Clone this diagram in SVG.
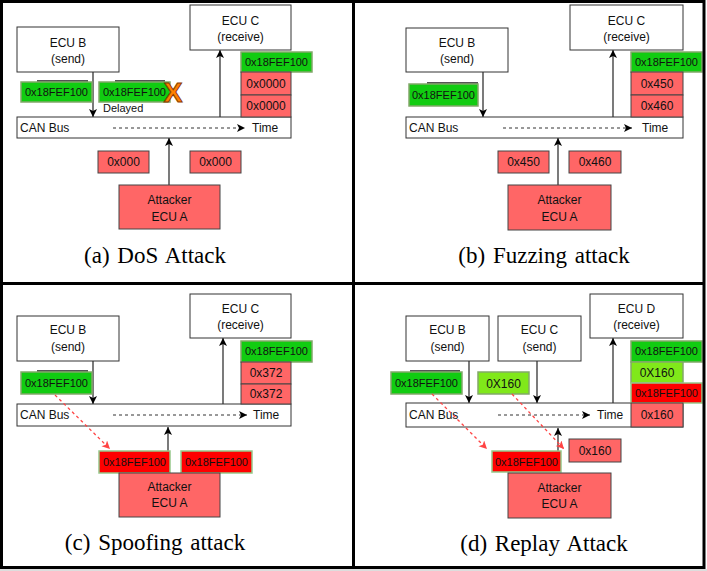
<svg xmlns="http://www.w3.org/2000/svg" width="707" height="571" viewBox="0 0 707 571">
<style>
.box{fill:#fff;stroke:#333;stroke-width:1}
.t{font-family:"Liberation Sans",Arial,sans-serif;font-size:12px;fill:#111;text-anchor:middle}
.s{text-anchor:start}
.m{font-size:11px}
.grn{fill:#11cc11;stroke:#82a86a;stroke-width:1.5}
.pnk{fill:#ff6666;stroke:#444;stroke-width:1}
.red{fill:#ff0000;stroke:#96c88a;stroke-width:1.5}
.lime{fill:#80e81a;stroke:#82a86a;stroke-width:1.5}
.sh{fill:#555}
.cap{font-family:"Liberation Serif","Times New Roman",serif;font-size:23px;fill:#000;text-anchor:middle;word-spacing:2px}
.c{stroke:#222;stroke-width:1.2;fill:none}
.d{stroke:#333;stroke-width:1;stroke-dasharray:3 3;fill:none}
.rd{stroke:#f44;stroke-width:1.3;stroke-dasharray:3 3;fill:none}
</style>
<defs>
<marker id="ah" markerWidth="10" markerHeight="10" refX="8" refY="4" orient="auto" markerUnits="userSpaceOnUse"><path d="M0,0 L8,4 L0,8 L2,4 z" fill="#000"/></marker>
<marker id="ar" markerWidth="10" markerHeight="10" refX="8" refY="4" orient="auto" markerUnits="userSpaceOnUse"><path d="M0,0 L8,4 L0,8 L2,4 z" fill="#f44"/></marker>
</defs>
<rect x="0" y="0" width="707" height="571" fill="#fff"/>
<rect x="0" y="569" width="707" height="2" fill="#ddd"/>

<!-- Panel (a) -->
<g id="a-connectors">
<line class="c" x1="93" y1="72" x2="93" y2="117" marker-end="url(#ah)"/>
<line class="c" x1="220" y1="117" x2="220" y2="50" marker-end="url(#ah)"/>
<line class="c" x1="169" y1="185" x2="169" y2="138" marker-end="url(#ah)"/>
</g>
<g id="a-ecub"><rect class="box" x="17" y="27" width="102" height="45"/><text class="t" x="68" y="47">ECU B</text><text class="t" x="68" y="63">(send)</text></g>
<g id="a-ecuc"><rect class="box" x="190" y="5" width="101" height="45"/><text class="t" x="240.5" y="25">ECU C</text><text class="t" x="240.5" y="41">(receive)</text></g>
<g id="a-bus"><rect class="box" x="17" y="117" width="274" height="21"/><text class="t s" x="20" y="132">CAN Bus</text><line class="d" x1="113" y1="128" x2="245" y2="128" marker-end="url(#ah)"/><text class="t s" x="252" y="132">Time</text></g>
<g id="a-msg1"><rect class="sh" x="37" y="80" width="51" height="20"/><rect class="grn" x="21" y="82" width="71" height="20"/><text class="t m" x="56.5" y="96">0x18FEF100</text></g>
<g id="a-msg2"><rect class="sh" x="115" y="80" width="50" height="20"/><rect class="grn" x="99" y="82" width="71" height="20"/><text class="t m" x="134.5" y="96">0x18FEF100</text>
<text x="173" y="102" font-family="'Liberation Sans',Arial,sans-serif" font-size="28" font-weight="bold" fill="#ff8000" stroke="#8a3a00" stroke-width="1" text-anchor="middle">X</text>
<text class="t s m" x="103" y="112">Delayed</text></g>
<g id="a-stack"><rect class="grn" x="241" y="52" width="71" height="20"/><text class="t m" x="276.5" y="66">0x18FEF100</text>
<rect class="pnk" x="241" y="72" width="50" height="23"/><text class="t" x="266" y="88">0x0000</text>
<rect class="pnk" x="241" y="95" width="50" height="22"/><text class="t" x="266" y="110">0x0000</text></g>
<g id="a-m000a"><rect class="pnk" x="98" y="151" width="51" height="22"/><text class="t" x="123.5" y="166">0x000</text></g>
<g id="a-m000b"><rect class="pnk" x="190" y="151" width="51" height="22"/><text class="t" x="215.5" y="166">0x000</text></g>
<g id="a-att"><rect class="pnk" x="119" y="185" width="101" height="44"/><text class="t" x="169.5" y="204">Attacker</text><text class="t" x="169.5" y="221">ECU A</text></g>
<text class="cap" x="155" y="263">(a) DoS Attack</text>

<!-- Panel (b) -->
<g id="b-connectors">
<line class="c" x1="483" y1="72" x2="483" y2="117" marker-end="url(#ah)"/>
<line class="c" x1="613" y1="117" x2="613" y2="50" marker-end="url(#ah)"/>
<line class="c" x1="558" y1="185" x2="558" y2="138" marker-end="url(#ah)"/>
</g>
<g id="b-ecub"><rect class="box" x="406" y="28" width="102" height="44"/><text class="t" x="457" y="47">ECU B</text><text class="t" x="457" y="63">(send)</text></g>
<g id="b-ecuc"><rect class="box" x="570" y="5" width="113" height="45"/><text class="t" x="626.5" y="25">ECU C</text><text class="t" x="626.5" y="41">(receive)</text></g>
<g id="b-bus"><rect class="box" x="406" y="117" width="277" height="21"/><text class="t s" x="409" y="132">CAN Bus</text><line class="d" x1="503" y1="128" x2="632" y2="128" marker-end="url(#ah)"/><text class="t s" x="642" y="132">Time</text></g>
<g id="b-msg"><rect class="sh" x="427" y="82" width="51" height="20"/><rect class="grn" x="409" y="84" width="69" height="22"/><text class="t m" x="443.5" y="99">0x18FEF100</text></g>
<g id="b-stack"><rect class="grn" x="631" y="52" width="71" height="20"/><text class="t m" x="666.5" y="66">0x18FEF100</text>
<rect class="pnk" x="631" y="72" width="52" height="23"/><text class="t" x="657" y="88">0x450</text>
<rect class="pnk" x="631" y="95" width="52" height="22"/><text class="t" x="657" y="110">0x460</text></g>
<g id="b-m450"><rect class="pnk" x="498" y="151" width="51" height="22"/><text class="t" x="523.5" y="166">0x450</text></g>
<g id="b-m460"><rect class="pnk" x="569" y="151" width="52" height="22"/><text class="t" x="595" y="166">0x460</text></g>
<g id="b-att"><rect class="pnk" x="508" y="185" width="103" height="45"/><text class="t" x="559.5" y="204">Attacker</text><text class="t" x="559.5" y="221">ECU A</text></g>
<text class="cap" x="544" y="263">(b) Fuzzing attack</text>

<!-- Panel (c) -->
<g id="c-connectors">
<line class="c" x1="93" y1="361" x2="93" y2="404" marker-end="url(#ah)"/>
<line class="c" x1="223" y1="404" x2="223" y2="338" marker-end="url(#ah)"/>
<line class="c" x1="168" y1="470" x2="168" y2="427" marker-end="url(#ah)"/>
</g>
<g id="c-ecub"><rect class="box" x="17" y="316" width="102" height="45"/><text class="t" x="68" y="334">ECU B</text><text class="t" x="68" y="351">(send)</text></g>
<g id="c-ecuc"><rect class="box" x="190" y="294" width="101" height="44"/><text class="t" x="240.5" y="313">ECU C</text><text class="t" x="240.5" y="329">(receive)</text></g>
<g id="c-bus"><rect class="box" x="17" y="404" width="274" height="22"/><text class="t s" x="20" y="419">CAN Bus</text><line class="d" x1="113" y1="415" x2="247" y2="415" marker-end="url(#ah)"/><text class="t s" x="253" y="419">Time</text></g>
<g id="c-msg"><rect class="sh" x="37" y="370" width="51" height="20"/><rect class="grn" x="21" y="372" width="71" height="22"/><text class="t m" x="56.5" y="387">0x18FEF100</text></g>
<g id="c-stack"><rect class="grn" x="241" y="341" width="71" height="21"/><text class="t m" x="276.5" y="355">0x18FEF100</text>
<rect class="pnk" x="241" y="362" width="50" height="22"/><text class="t" x="266" y="377">0x372</text>
<rect class="pnk" x="241" y="384" width="50" height="20"/><text class="t" x="266" y="398">0x372</text></g>
<g id="c-spoof1"><rect class="red" x="99" y="451" width="71" height="22"/><text class="t m" x="134.5" y="466">0x18FEF100</text></g>
<g id="c-spoof2"><rect class="red" x="181" y="451" width="71" height="22"/><text class="t m" x="216.5" y="466">0x18FEF100</text></g>
<g id="c-att"><rect class="pnk" x="119" y="473" width="101" height="44"/><text class="t" x="169.5" y="491">Attacker</text><text class="t" x="169.5" y="507">ECU A</text></g>
<g id="c-connectors-over">
<line class="rd" x1="55" y1="395" x2="110" y2="449" marker-end="url(#ar)"/>
</g>
<text class="cap" x="155" y="550">(c) Spoofing attack</text>

<!-- Panel (d) -->
<g id="d-connectors">
<line class="c" x1="469" y1="361" x2="469" y2="403" marker-end="url(#ah)"/>
<line class="c" x1="537" y1="361" x2="537" y2="403" marker-end="url(#ah)"/>
<line class="c" x1="613" y1="403" x2="613" y2="338" marker-end="url(#ah)"/>
<line class="c" x1="558" y1="472" x2="558" y2="428" marker-end="url(#ah)"/>
</g>
<g id="d-ecub"><rect class="box" x="406" y="316" width="83" height="45"/><text class="t" x="447.5" y="334">ECU B</text><text class="t" x="447.5" y="351">(send)</text></g>
<g id="d-ecuc"><rect class="box" x="498" y="316" width="83" height="45"/><text class="t" x="539.5" y="334">ECU C</text><text class="t" x="539.5" y="351">(send)</text></g>
<g id="d-ecud"><rect class="box" x="590" y="294" width="93" height="44"/><text class="t" x="636.5" y="313">ECU D</text><text class="t" x="636.5" y="329">(receive)</text></g>
<g id="d-bus"><rect class="box" x="406" y="403" width="277" height="24"/><text class="t s" x="409" y="419">CAN Bus</text><line class="d" x1="498" y1="415" x2="590" y2="415" marker-end="url(#ah)"/><text class="t s" x="597" y="419">Time</text></g>
<g id="d-msgb"><rect class="sh" x="410" y="370" width="50" height="20"/><rect class="grn" x="391" y="372" width="71" height="22"/><text class="t m" x="426.5" y="387">0x18FEF100</text></g>
<g id="d-msgc"><rect class="lime" x="478" y="372" width="51" height="22"/><text class="t" x="503.5" y="388">0X160</text></g>
<g id="d-stack"><rect class="grn" x="631" y="341" width="71" height="21"/><text class="t m" x="666.5" y="355">0x18FEF100</text>
<rect class="lime" x="631" y="362" width="52" height="21"/><text class="t" x="657" y="377">0X160</text>
<rect class="red" x="631" y="383" width="71" height="20"/><text class="t m" x="666.5" y="397">0x18FEF100</text>
<rect class="pnk" x="631" y="403" width="52" height="24"/><text class="t" x="657" y="419">0x160</text></g>
<g id="d-replay1"><rect class="red" x="492" y="451" width="69" height="21"/><text class="t m" x="526.5" y="466">0x18FEF100</text></g>
<g id="d-replay2"><rect class="pnk" x="569" y="439" width="52" height="23"/><text class="t" x="595" y="455">0x160</text></g>
<g id="d-att"><rect class="pnk" x="508" y="473" width="103" height="45"/><text class="t" x="559.5" y="492">Attacker</text><text class="t" x="559.5" y="508">ECU A</text></g>
<g id="d-connectors-over">
<line class="rd" x1="432" y1="394" x2="487" y2="449" marker-end="url(#ar)"/>
<line class="rd" x1="512" y1="394" x2="564" y2="449" marker-end="url(#ar)"/>
</g>
<text class="cap" x="544" y="551">(d) Replay Attack</text>

<!-- frame -->
<g id="frame" fill="none" stroke="#000" stroke-width="3">
<rect x="1.5" y="1.5" width="702.5" height="566"/>
<line x1="353.5" y1="1.5" x2="353.5" y2="567.5"/>
<line x1="1.5" y1="283.5" x2="704" y2="283.5"/>
</g>
</svg>
